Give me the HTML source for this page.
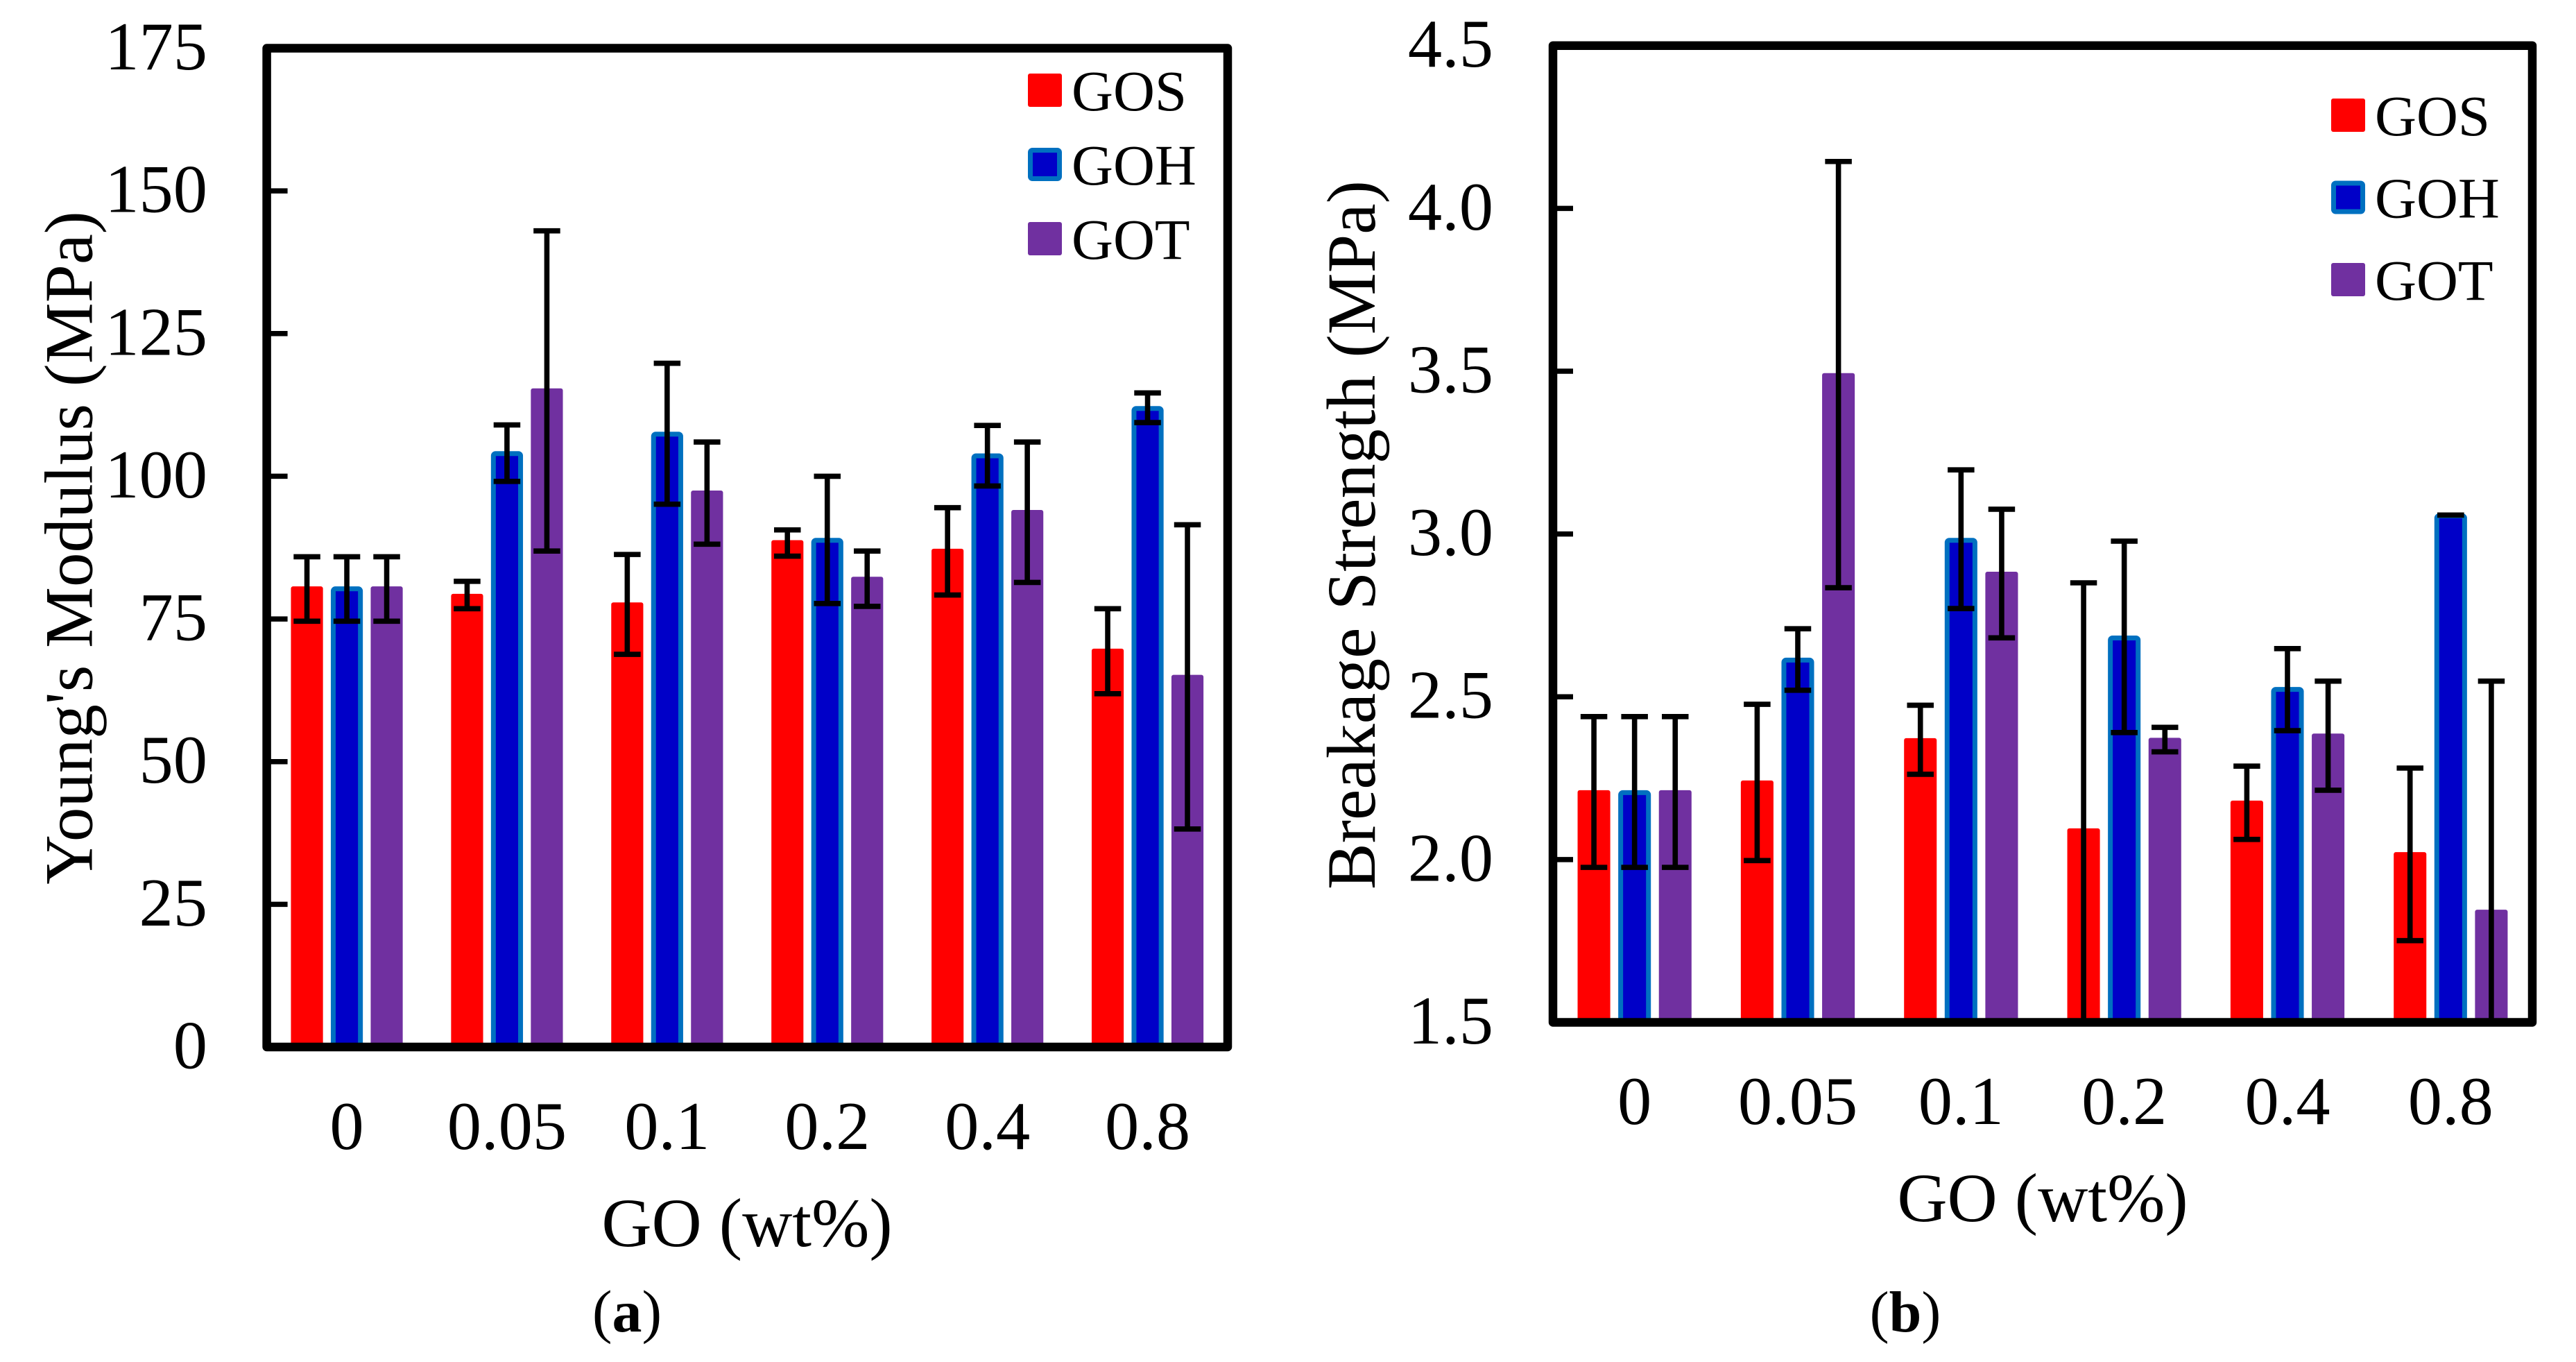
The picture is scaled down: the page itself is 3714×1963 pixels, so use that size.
<!DOCTYPE html>
<html lang="en">
<head>
<meta charset="utf-8">
<title>Young's Modulus and Breakage Strength vs GO content</title>
<style>
html,body{margin:0;padding:0;background:#fff;}
svg{display:block;}
text{font-family:"Liberation Serif",serif;fill:#000;}
</style>
</head>
<body>
<svg id="figure" xmlns="http://www.w3.org/2000/svg" width="3714" height="1963" viewBox="0 0 3714 1963">
<rect x="0" y="0" width="3714" height="1963" fill="#ffffff"/>
<g id="panel-a"></g>
<g id="panel-b"></g>
<text x="904" y="1919" font-size="86" text-anchor="middle">(<tspan font-weight="bold">a</tspan>)</text>
<text x="2747" y="1919" font-size="84" text-anchor="middle">(<tspan font-weight="bold">b</tspan>)</text>
</svg>
<script>
const categories = ['0', '0.05', '0.1', '0.2', '0.4', '0.8'];
const seriesNames = ['GOS', 'GOH', 'GOT'];

const modulusTicks = [0, 25, 50, 75, 100, 125, 150, 175];
const modulusTickLabels = ['0', '25', '50', '75', '100', '125', '150', '175'];
const modulusGos = [80.7, 79.4, 77.9, 88.8, 87.3, 69.8];
const modulusGoh = [80.7, 104.4, 107.8, 89.2, 104, 112.3];
const modulusGot = [80.7, 115.4, 97.5, 82.4, 94.1, 65.2];
const modulusGosHigh = [85.9, 81.6, 86.3, 90.6, 94.5, 76.8];
const modulusGosLow = [74.6, 76.8, 68.8, 86, 79.2, 61.9];
const modulusGohHigh = [85.9, 109, 119.8, 100, 108.9, 114.6];
const modulusGohLow = [74.6, 99.1, 95.1, 77.7, 98.3, 109.4];
const modulusGotHigh = [85.9, 143, 106, 86.9, 106, 91.5];
const modulusGotLow = [74.6, 86.9, 88.1, 77.2, 81.4, 38.2];

const strengthTicks = [1.5, 2, 2.5, 3, 3.5, 4, 4.5];
const strengthTickLabels = ['1.5', '2.0', '2.5', '3.0', '3.5', '4.0', '4.5'];
const strengthGos = [2.213, 2.243, 2.373, 2.096, 2.181, 2.023];
const strengthGoh = [2.213, 2.62, 2.988, 2.688, 2.53, 3.063];
const strengthGot = [2.213, 3.494, 2.884, 2.374, 2.387, 1.846];
const strengthGosHigh = [2.439, 2.477, 2.474, 2.85, 2.287, 2.281];
const strengthGosLow = [1.976, 1.997, 2.262, 1.34, 2.062, 1.751];
const strengthGohHigh = [2.439, 2.709, 3.197, 2.978, 2.648, 3.058];
const strengthGohLow = [1.976, 2.52, 2.771, 2.39, 2.396, 3.058];
const strengthGotHigh = [2.439, 4.144, 3.076, 2.406, 2.548, 2.548];
const strengthGotLow = [1.976, 2.835, 2.681, 2.331, 2.213, 1.14];

const NS = 'http://www.w3.org/2000/svg';
const RED = '#ff0000', BLUE = '#0000c8', EDGE = '#0070c0', PURPLE = '#7030a0';

function make(tag, attrs, parent) {
  const node = document.createElementNS(NS, tag);
  for (const key in attrs) node.setAttribute(key, attrs[key]);
  parent.appendChild(node);
  return node;
}

function drawBar(parent, x, top, w, bottom, seriesIndex, name) {
  const isBlue = seriesIndex === 1;
  const inset = isBlue ? 3.5 : 0;
  const bar = make('rect', {
    x: x + inset, y: top + inset, width: w - inset * 2, height: bottom - top - inset,
    rx: 3, fill: isBlue ? BLUE : (seriesIndex === 0 ? RED : PURPLE),
    stroke: isBlue ? EDGE : 'none', 'stroke-width': isBlue ? 7 : 0
  }, parent);
  
  
}

function drawErrorBar(parent, cx, yHigh, yLow, showLowCap, capW, name) {
  const g = make('g', {stroke: '#000', fill: 'none'}, parent);
  
  
  make('line', {x1: cx, x2: cx, y1: yHigh, y2: yLow, 'stroke-width': 7.6}, g);
  make('line', {x1: cx - capW / 2, x2: cx + capW / 2, y1: yHigh, y2: yHigh, 'stroke-width': 7.6}, g);
  if (showLowCap) {
    make('line', {x1: cx - capW / 2, x2: cx + capW / 2, y1: yLow, y2: yLow, 'stroke-width': 7.6}, g);
  }
}

function drawPanel(cfg) {
  const root = document.getElementById(cfg.id);
  const yScale = v => cfg.bottom - (v - cfg.min) / (cfg.max - cfg.min) * (cfg.bottom - cfg.top);
  const band = (cfg.right - cfg.left) / categories.length;
  const xCenter = i => cfg.left + band * (i + 0.5);
  const step = band * 0.249;
  const barW = band * 0.2;

  categories.forEach((cat, i) => {
    cfg.values.forEach((vals, s) => {
      const cx = xCenter(i) + (s - 1) * step;
      drawBar(root, cx - barW / 2, yScale(vals[i]), barW, cfg.bottom, s,
        'bar-' + seriesNames[s].toLowerCase() + '-' + cat);
    });
  });

  const frame = make('rect', {
    x: cfg.left, y: cfg.top, width: cfg.right - cfg.left, height: cfg.bottom - cfg.top,
    fill: 'none', stroke: '#000', 'stroke-width': 12.5, 'stroke-linejoin': 'round'
  }, root);
  
  

  categories.forEach((cat, i) => {
    cfg.values.forEach((vals, s) => {
      const cx = xCenter(i) + (s - 1) * step;
      const lowValue = cfg.lows[s][i];
      const clipped = lowValue < cfg.min;
      drawErrorBar(root, cx, yScale(cfg.highs[s][i]), yScale(Math.max(lowValue, cfg.min)), !clipped, 38.5,
        'error-bar-' + seriesNames[s].toLowerCase() + '-' + cat);
    });
    const label = make('text', {x: xCenter(i), y: cfg.xLabelY, 'font-size': 98.5, 'text-anchor': 'middle'}, root);
    label.textContent = cat;
    
    
  });

  cfg.ticks.forEach((t, i) => {
    const y = yScale(t);
    if (t !== cfg.min && t !== cfg.max) {
      const tick = make('line', {x1: cfg.left, x2: cfg.left + cfg.tickLen, y1: y, y2: y, stroke: '#000', 'stroke-width': 7.5}, root);
      
      
    }
    const label = make('text', {x: cfg.yLabelX, y: y + 30.5, 'font-size': 98.5, 'text-anchor': 'end'}, root);
    label.textContent = cfg.tickLabels[i];
    
    
  });

  const yTitle = make('text', {
    x: 0, y: 0, 'font-size': cfg.yTitleSize, 'text-anchor': 'middle',
    transform: 'translate(' + cfg.yTitleX + ' ' + cfg.yTitleY + ') rotate(-90)'
  }, root);
  yTitle.textContent = cfg.yTitle;
  
  

  const xTitle = make('text', {x: cfg.xTitleX, y: cfg.xTitleY, 'font-size': 100, 'text-anchor': 'middle'}, root);
  xTitle.textContent = 'GO (wt%)';
  
  

  seriesNames.forEach((name, s) => {
    const isBlue = s === 1;
    const inset = isBlue ? 3.5 : 0;
    const top = cfg.legendY + s * cfg.legendStep;
    const swatch = make('rect', {
      x: cfg.legendX + inset, y: top + inset, width: 49 - inset * 2, height: 48 - inset * 2, rx: 3,
      fill: isBlue ? BLUE : (s === 0 ? RED : PURPLE),
      stroke: isBlue ? EDGE : 'none', 'stroke-width': isBlue ? 7 : 0
    }, root);
    
    
    const text = make('text', {x: cfg.legendX + 63, y: top + 53, 'font-size': 83}, root);
    text.textContent = name;
    
    
  });
}

drawPanel({
  id: 'panel-a', left: 384.6, right: 1770, top: 69.5, bottom: 1509, min: 0, max: 175,
  ticks: modulusTicks, tickLabels: modulusTickLabels,
  values: [modulusGos, modulusGoh, modulusGot],
  highs: [modulusGosHigh, modulusGohHigh, modulusGotHigh],
  lows: [modulusGosLow, modulusGohLow, modulusGotLow],
  tickLen: 30, yLabelX: 299, xLabelY: 1656,
  yTitle: "Young's Modulus (MPa)", yTitleSize: 99, yTitleX: 132.5, yTitleY: 789.5,
  xTitleX: 1077, xTitleY: 1796,
  legendX: 1482, legendY: 106, legendStep: 107
});

drawPanel({
  id: 'panel-b', left: 2239, right: 3651, top: 65.7, bottom: 1473.5, min: 1.5, max: 4.5,
  ticks: strengthTicks, tickLabels: strengthTickLabels,
  values: [strengthGos, strengthGoh, strengthGot],
  highs: [strengthGosHigh, strengthGohHigh, strengthGotHigh],
  lows: [strengthGosLow, strengthGohLow, strengthGotLow],
  tickLen: 29, yLabelX: 2153, xLabelY: 1620,
  yTitle: 'Breakage Strength (MPa)', yTitleSize: 100, yTitleX: 1982, yTitleY: 771,
  xTitleX: 2945, xTitleY: 1760,
  legendX: 3361, legendY: 142, legendStep: 118.5
});
</script>
</body>
</html>
